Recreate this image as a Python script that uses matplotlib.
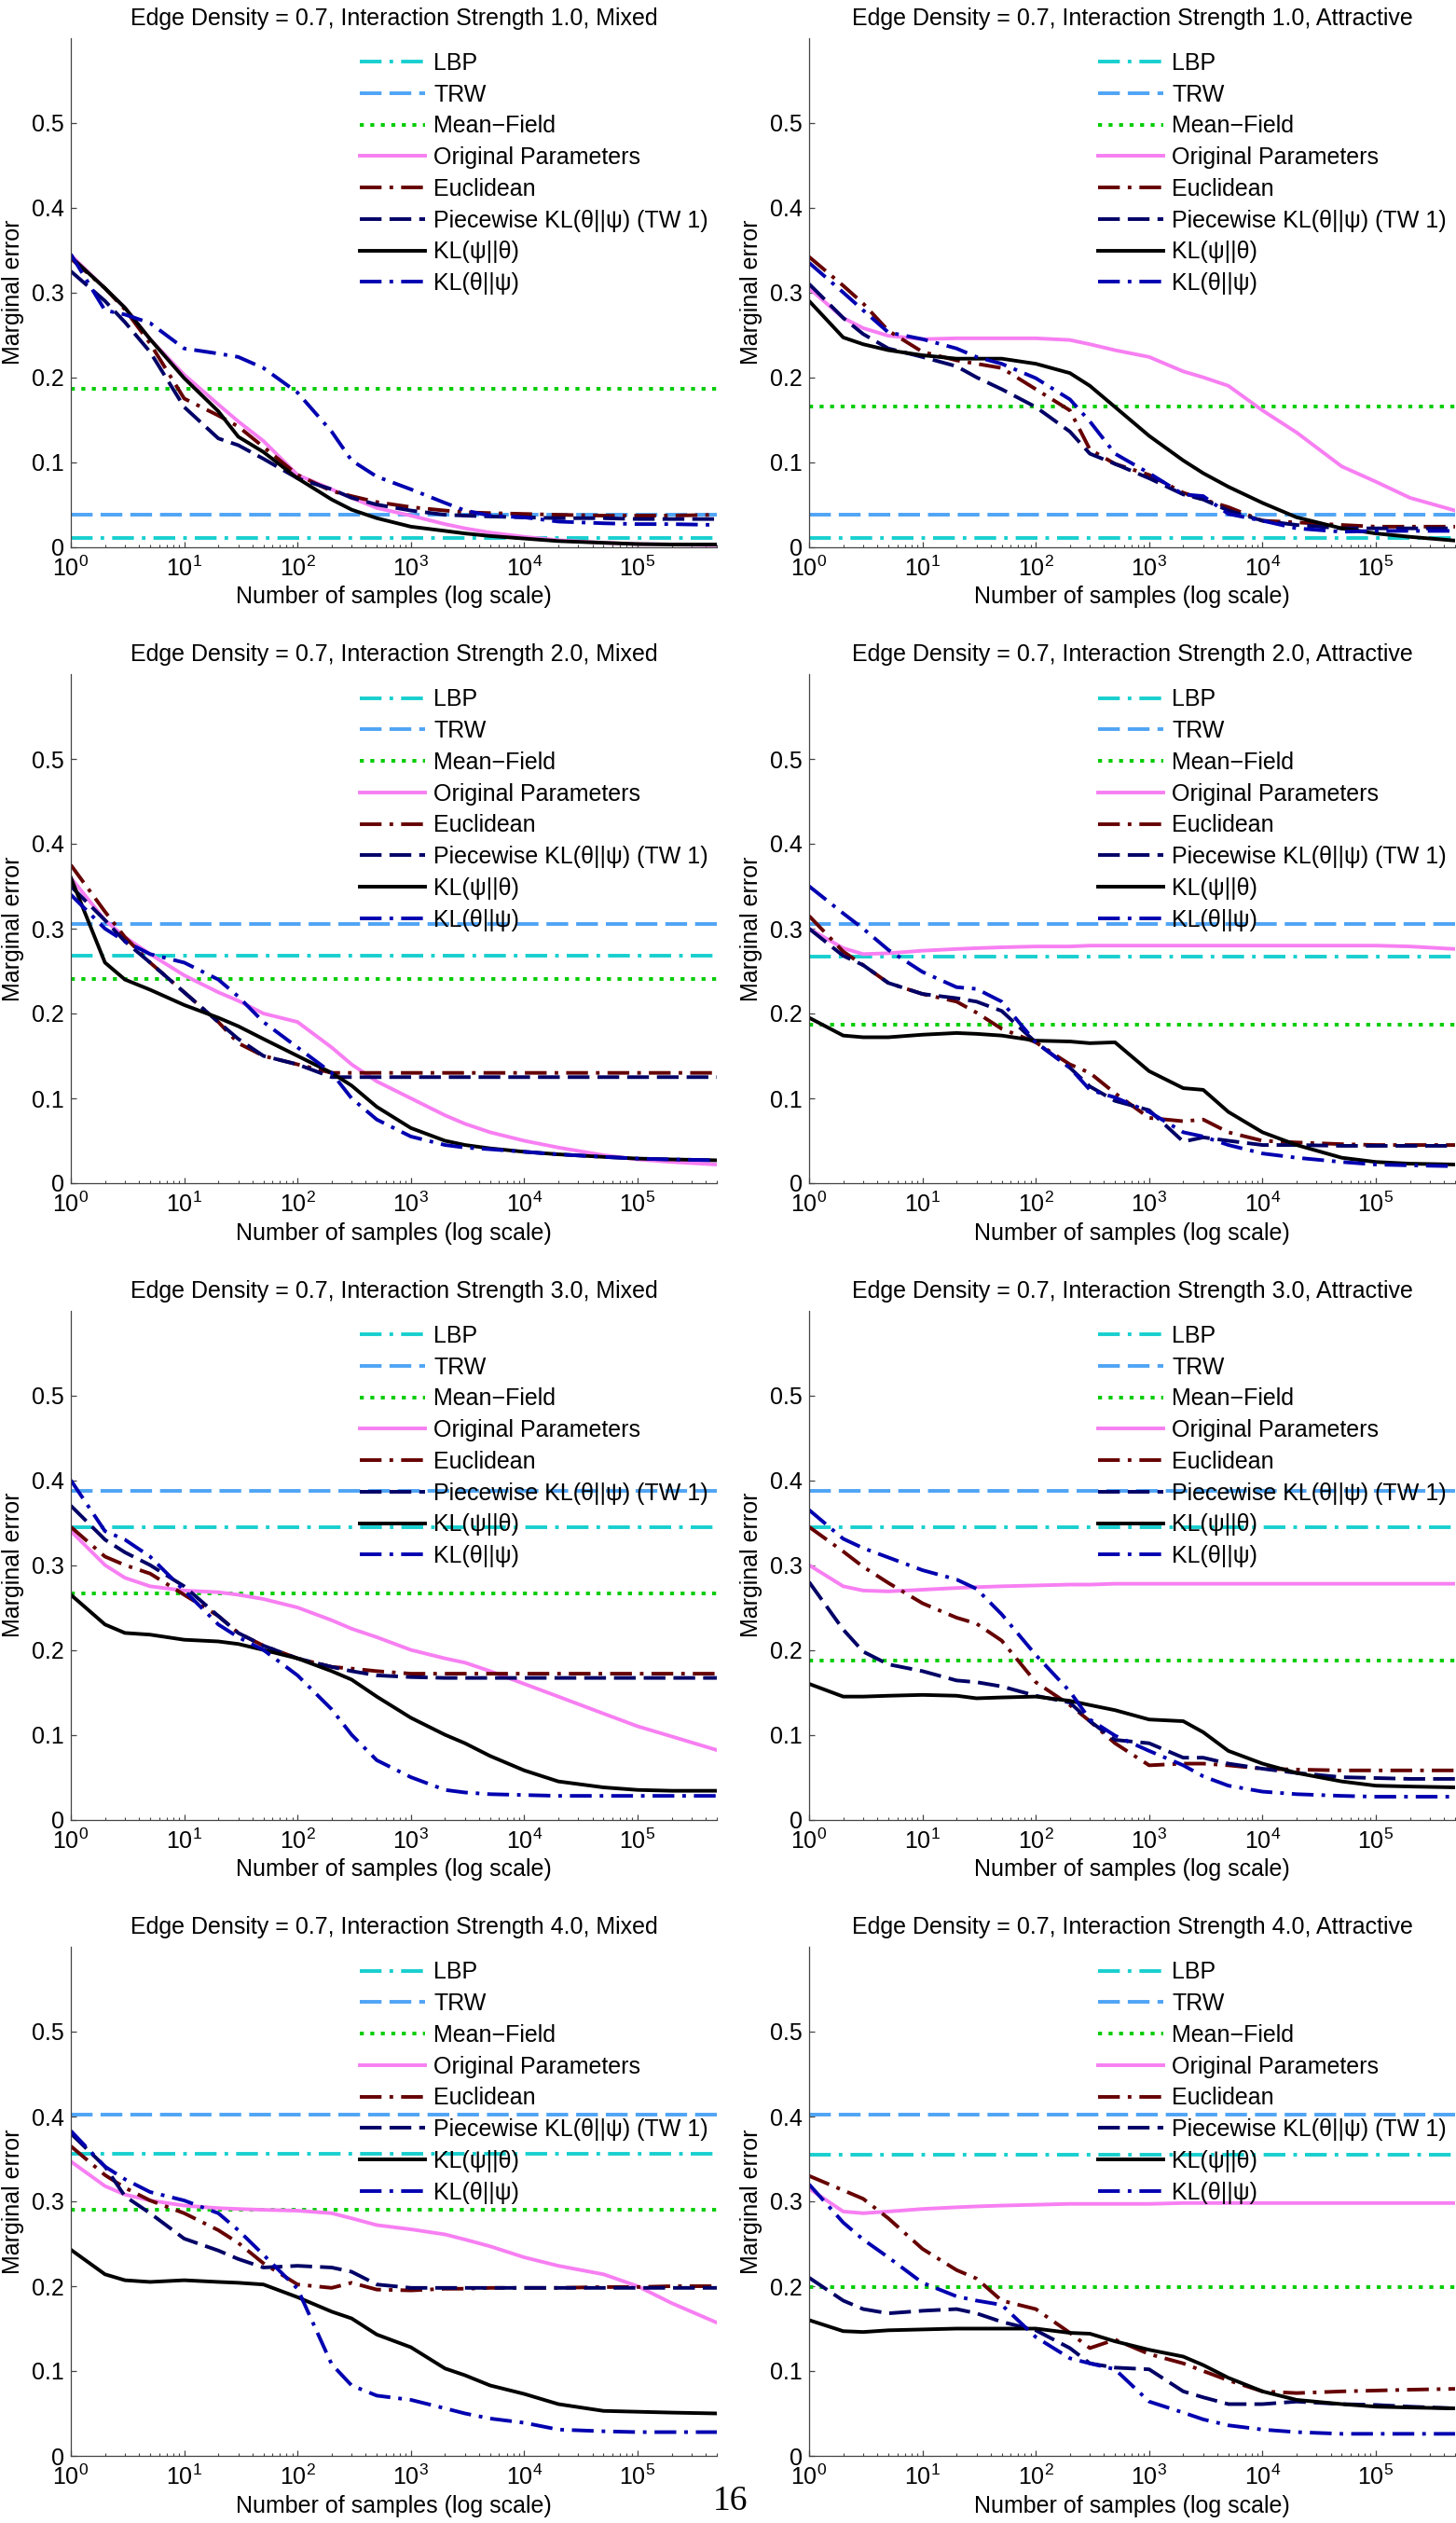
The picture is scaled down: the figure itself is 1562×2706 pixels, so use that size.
import numpy as np
import matplotlib.pyplot as plt
from matplotlib.ticker import LogLocator, NullFormatter

plt.rcParams['font.family'] = ['Liberation Sans', 'DejaVu Sans']
plt.rcParams['mathtext.fontset'] = 'custom'
plt.rcParams['mathtext.rm'] = 'Liberation Sans'
plt.rcParams['mathtext.it'] = 'Liberation Sans:italic'
plt.rcParams['mathtext.bf'] = 'Liberation Sans:bold'

n_samples = [1, 2, 3, 5, 10, 20, 30, 50, 100, 200, 300, 500, 1000, 2000, 3000,
             5000, 10000, 20000, 50000, 100000, 200000, 500000]

strengths = ['1.0', '1.0', '2.0', '2.0', '3.0', '3.0', '4.0', '4.0']
kinds = ['Mixed', 'Attractive'] * 4

# constant baselines, one value per panel
lbp = [0.011, 0.011, 0.268, 0.267, 0.345, 0.345, 0.356, 0.355]
trw = [0.038, 0.038, 0.305, 0.305, 0.387, 0.387, 0.402, 0.402]
mean_field = [0.186, 0.166, 0.241, 0.187, 0.267, 0.187, 0.290, 0.199]

original = [
    [.344, .305, .282, .245, .203, .168, .148, .125, .085, .068, .058, .046, .037, .027, .022, .017, .012, .008, .005, .0035, .003, .002],
    [.305, .270, .258, .249, .245, .246, .246, .246, .246, .244, .239, .232, .224, .207, .200, .190, .161, .135, .095, .077, .058, .043],
    [.360, .310, .290, .270, .245, .225, .215, .200, .190, .160, .140, .120, .100, .080, .070, .060, .050, .042, .033, .028, .025, .022],
    [.300, .277, .270, .271, .274, .276, .277, .278, .279, .279, .280, .280, .280, .280, .280, .280, .280, .280, .280, .280, .279, .276],
    [.340, .300, .285, .275, .270, .268, .265, .260, .250, .235, .225, .215, .200, .190, .185, .175, .160, .145, .125, .110, .098, .082],
    [.300, .275, .270, .269, .271, .273, .274, .275, .276, .277, .277, .278, .278, .278, .278, .278, .278, .278, .278, .278, .278, .278],
    [.347, .318, .308, .301, .295, .292, .291, .290, .289, .286, .280, .272, .267, .261, .255, .247, .234, .224, .214, .200, .180, .157],
    [.315, .288, .286, .288, .291, .293, .294, .295, .296, .297, .297, .297, .297, .298, .298, .298, .298, .298, .298, .298, .298, .298],
]

euclidean = [
    [.340, .305, .280, .240, .175, .155, .142, .118, .085, .066, .060, .053, .047, .043, .041, .040, .039, .038, .037, .037, .037, .038],
    [.342, .308, .287, .255, .230, .220, .216, .211, .186, .161, .115, .098, .085, .064, .056, .047, .031, .029, .026, .024, .024, .024],
    [.375, .320, .290, .260, .225, .190, .165, .150, .140, .130, .130, .130, .130, .130, .130, .130, .130, .130, .130, .130, .130, .130],
    [.315, .273, .257, .236, .223, .214, .201, .182, .166, .140, .130, .106, .077, .073, .075, .060, .050, .048, .046, .045, .045, .045],
    [.345, .310, .300, .290, .265, .240, .220, .205, .190, .180, .178, .175, .172, .172, .172, .172, .172, .172, .172, .172, .172, .172],
    [.345, .316, .298, .279, .255, .238, .231, .211, .162, .135, .116, .090, .064, .066, .066, .064, .060, .059, .058, .058, .058, .058],
    [.365, .331, .316, .301, .286, .266, .251, .227, .202, .198, .204, .196, .195, .197, .197, .198, .198, .198, .199, .199, .200, .200],
    [.330, .313, .303, .280, .244, .219, .209, .183, .173, .145, .127, .137, .120, .109, .100, .089, .076, .074, .076, .077, .078, .079],
]

piecewise = [
    [.325, .290, .265, .230, .165, .128, .120, .104, .081, .068, .058, .050, .043, .038, .037, .036, .035, .034, .034, .033, .033, .033],
    [.310, .270, .251, .234, .224, .213, .200, .186, .165, .136, .110, .098, .081, .062, .056, .043, .031, .026, .022, .022, .022, .022],
    [.350, .310, .285, .260, .225, .190, .170, .150, .140, .125, .125, .125, .125, .125, .125, .125, .125, .125, .125, .125, .125, .125],
    [.300, .268, .257, .236, .223, .218, .214, .203, .166, .136, .114, .097, .086, .049, .054, .050, .045, .045, .044, .044, .044, .044],
    [.370, .330, .315, .300, .275, .240, .220, .205, .190, .180, .175, .170, .168, .167, .167, .167, .167, .167, .167, .167, .167, .167],
    [.280, .224, .198, .183, .175, .164, .162, .157, .146, .138, .116, .094, .090, .073, .073, .066, .060, .055, .050, .049, .048, .048],
    [.380, .341, .306, .286, .256, .242, .232, .222, .224, .222, .217, .202, .198, .198, .198, .198, .198, .198, .198, .198, .198, .198],
    [.210, .183, .173, .168, .171, .173, .168, .158, .148, .127, .109, .104, .102, .076, .069, .061, .061, .064, .061, .060, .058, .056],
]

kl_psi_theta = [
    [.342, .305, .282, .245, .199, .160, .130, .112, .081, .056, .044, .034, .024, .019, .016, .013, .010, .007, .005, .0035, .003, .003],
    [.290, .247, .239, .232, .226, .222, .222, .222, .216, .205, .190, .165, .131, .102, .087, .071, .052, .035, .022, .016, .012, .0076],
    [.360, .260, .240, .228, .210, .195, .185, .170, .150, .130, .115, .090, .065, .050, .045, .041, .037, .034, .031, .029, .028, .027],
    [.195, .174, .172, .172, .175, .177, .176, .174, .168, .167, .165, .166, .132, .112, .110, .084, .060, .045, .030, .025, .023, .022],
    [.265, .230, .220, .218, .212, .210, .207, .200, .190, .175, .165, .145, .120, .100, .090, .075, .058, .045, .038, .035, .034, .034],
    [.160, .145, .145, .146, .147, .146, .143, .144, .145, .140, .135, .129, .118, .116, .103, .081, .066, .055, .045, .040, .039, .038],
    [.243, .214, .207, .205, .207, .205, .204, .202, .187, .170, .162, .143, .128, .103, .095, .083, .073, .061, .053, .052, .051, .050],
    [.160, .147, .146, .148, .149, .150, .150, .150, .150, .145, .144, .135, .125, .117, .107, .092, .076, .066, .061, .058, .057, .056],
]

kl_theta_psi = [
    [.345, .279, .274, .264, .234, .228, .224, .211, .182, .136, .102, .083, .068, .052, .043, .037, .035, .030, .028, .027, .027, .026],
    [.335, .300, .279, .253, .245, .234, .224, .216, .199, .174, .148, .110, .087, .062, .060, .039, .031, .022, .018, .019, .019, .019],
    [.340, .300, .285, .270, .260, .240, .220, .190, .160, .130, .100, .075, .055, .045, .042, .040, .037, .034, .031, .029, .028, .027],
    [.350, .318, .300, .275, .249, .231, .229, .214, .166, .136, .110, .101, .084, .060, .055, .045, .035, .030, .025, .022, .021, .020],
    [.400, .340, .330, .310, .270, .230, .215, .200, .170, .130, .100, .070, .050, .035, .032, .030, .029, .028, .028, .028, .028, .028],
    [.365, .331, .320, .309, .294, .283, .272, .242, .194, .151, .118, .099, .081, .064, .051, .040, .033, .030, .028, .027, .027, .027],
    [.383, .341, .326, .311, .301, .286, .266, .237, .197, .108, .083, .071, .066, .056, .050, .044, .039, .031, .029, .028, .028, .028],
    [.320, .275, .255, .234, .204, .188, .183, .178, .140, .115, .109, .102, .064, .051, .043, .036, .031, .028, .026, .026, .026, .026],
]

LW = 2.8
DASHDOT = (0, (6, 2.2, 1, 2.2))
DASHED = (0, (6, 2.2))
DOTTED = (0, (1.1, 1.8))

W, H = 1562, 2706
col_left = [76, 868]
ax_w = 693
row_top = [40.7, 723, 1405.6, 2088]
ax_h = 546

fig = plt.figure(figsize=(W / 100, H / 100), dpi=100)

for i in range(8):
    r, c = divmod(i, 2)
    ax = fig.add_axes([col_left[c] / W, 1 - (row_top[r] + ax_h) / H, ax_w / W, ax_h / H])

    ax.axhline(lbp[i], color='#18cfcf', ls=DASHDOT, lw=LW, label='LBP')
    ax.axhline(trw[i], color='#4fa4f5', ls=DASHED, lw=LW, label='TRW')
    ax.axhline(mean_field[i], color='#00cc00', ls=DOTTED, lw=LW, label='Mean\u2212Field')
    ax.plot(n_samples, original[i], color='#f77ff2', ls='-', lw=LW, label='Original Parameters')
    ax.plot(n_samples, euclidean[i], color='#660000', ls=DASHDOT, lw=LW, label='Euclidean')
    ax.plot(n_samples, piecewise[i], color='#000066', ls=DASHED, lw=LW,
            label='Piecewise KL(\u03b8||\u03c8) (TW 1)')
    ax.plot(n_samples, kl_psi_theta[i], color='black', ls='-', lw=LW, label='KL(\u03c8||\u03b8)')
    ax.plot(n_samples, kl_theta_psi[i], color='#0000b0', ls=DASHDOT, lw=LW, label='KL(\u03b8||\u03c8)')

    ax.set_xscale('log')
    ax.set_xlim(1, 5e5)
    ax.set_ylim(0, 0.6)
    ax.set_yticks([0, 0.1, 0.2, 0.3, 0.4, 0.5])
    ax.set_yticklabels(['0', '0.1', '0.2', '0.3', '0.4', '0.5'])
    ax.xaxis.set_major_locator(LogLocator(base=10, numticks=10))
    ax.xaxis.set_minor_locator(LogLocator(base=10, subs=np.arange(2, 10), numticks=20))
    ax.xaxis.set_minor_formatter(NullFormatter())

    for side in ['top', 'right']:
        ax.spines[side].set_visible(False)
    for side in ['left', 'bottom']:
        ax.spines[side].set_color('#444444')
        ax.spines[side].set_linewidth(0.9)
    ax.tick_params(which='major', direction='in', length=4.5, width=0.9,
                   color='#444444', labelsize=18, pad=5)
    ax.tick_params(axis='x', which='major', pad=7)
    ax.tick_params(which='minor', direction='in', length=2.5, width=0.8, color='#444444')

    ax.set_title('Edge Density = 0.7, Interaction Strength %s, %s' % (strengths[i], kinds[i]),
                 fontsize=18, pad=10)
    ax.set_ylabel('Marginal error', fontsize=18, labelpad=6)
    ax.set_xlabel('Number of samples (log scale)', fontsize=18, labelpad=4)

    ax.legend(loc='upper left', bbox_to_anchor=(0.448, 0.972), frameon=False,
              borderpad=0, borderaxespad=0, handlelength=2.8, handletextpad=0.36,
              labelspacing=0.39, fontsize=18)

fig.text(783 / W, 1 - 2683 / H, '16', ha='center', va='center', fontsize=27,
         family=['Liberation Serif', 'DejaVu Serif'])

fig.savefig('out.png', dpi=100)
